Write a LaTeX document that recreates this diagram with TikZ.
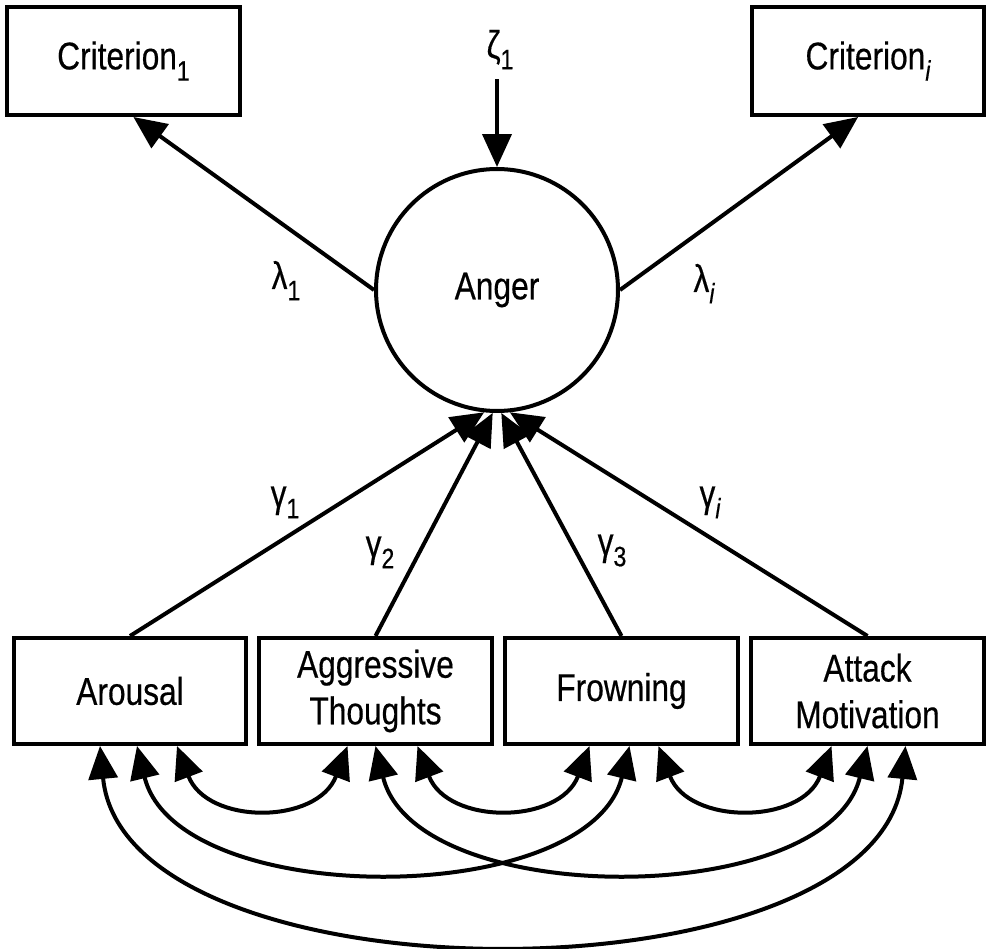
\documentclass[tikz,border=0pt]{standalone}
\usepackage{fontspec}
\setmainfont{Liberation Sans}[FakeStretch=0.82,FakeBold=0.4]
\usetikzlibrary{arrows.meta,calc}
\newcommand\lowidx[1]{\raisebox{-0.55ex}{\fontsize{16}{16}\selectfont#1}}

\begin{document}
\begin{tikzpicture}[x=0.02cm,y=-0.02cm,line width=0.08cm,
  font=\fontsize{22}{26.5}\selectfont,
  box/.style={draw,minimum width=4.66cm,minimum height=2.12cm,align=center,inner sep=0pt},
  crit/.style={box,minimum height=2.16cm},
  lbl/.style={inner sep=0pt,anchor=base},
  path/.style={-{Triangle[length=0.66cm,width=0.58cm]}},
  cov/.style={{Triangle[length=0.66cm,width=0.58cm]}-{Triangle[length=0.66cm,width=0.58cm]}}]
  \useasboundingbox (0,0) rectangle (991,949);
  % latent variable and criteria
  \node[draw,circle,minimum size=4.84cm,inner sep=0pt] (anger) at (497,290) {Anger};
  \node[crit] (c1) at (123.5,61) {Criterion\lowidx{1}};
  \node[crit] (ci) at (868,61) {Criterion\lowidx{\itshape i}};
  \node[lbl] (zeta) at (500,58) {ζ\lowidx{1}};
  \draw[path] ($(zeta.south)+(-3,8)$) -- (anger);
  \draw[path] (anger.180) -- (c1.-80);
  \draw[path] (anger.0) -- (ci.-100);
  \node[lbl] (l1) at (286,289) {λ\lowidx{1}};
  \node[lbl] (li) at (704,292) {λ\lowidx{\itshape i}};
  % indicators
  \node[box] (ar) at (130,691) {Arousal};
  \node[box] (ag) at (375.5,691) {Aggressive\\Thoughts};
  \node[box] (fr) at (621.5,691) {Frowning};
  \node[box] (at) at (867.5,691) {Attack\\Motivation};
  \draw[path] (ar.north) -- (anger.264);
  \draw[path] (ag.north) -- (anger.268);
  \draw[path] (fr.north) -- (anger.272);
  \draw[path] (at.north) -- (anger.276);
  \node[lbl] (g1) at (285,507) {γ\lowidx{1}};
  \node[lbl] (g2) at (380,557) {γ\lowidx{2}};
  \node[lbl] (g3) at (612,555) {γ\lowidx{3}};
  \node[lbl] (gi) at (710,507) {γ\lowidx{\itshape i}};
  % covariances
  \draw[cov] ($(ar.south)+(47,0)$) .. controls +(30,79) and +(-30,79) .. ($(ag.south)+(-28,0)$);
  \draw[cov] ($(ag.south)+(42,0)$) .. controls +(30,79) and +(-30,79) .. ($(fr.south)+(-32,0)$);
  \draw[cov] ($(fr.south)+(37,0)$) .. controls +(30,79) and +(-30,79) .. ($(at.south)+(-36,0)$);
  \draw[cov] ($(ar.south)+(7,0)$) .. controls +(40,164) and +(-40,164) .. ($(fr.south)+(8,0)$);
  \draw[cov] (ag.south) .. controls +(40,164) and +(-40,164) .. (at.south);
  \draw[cov] ($(ar.south)+(-30,0)$) .. controls +(25,260) and +(-25,260) .. ($(at.south)+(38,0)$);
\end{tikzpicture}
\end{document}
